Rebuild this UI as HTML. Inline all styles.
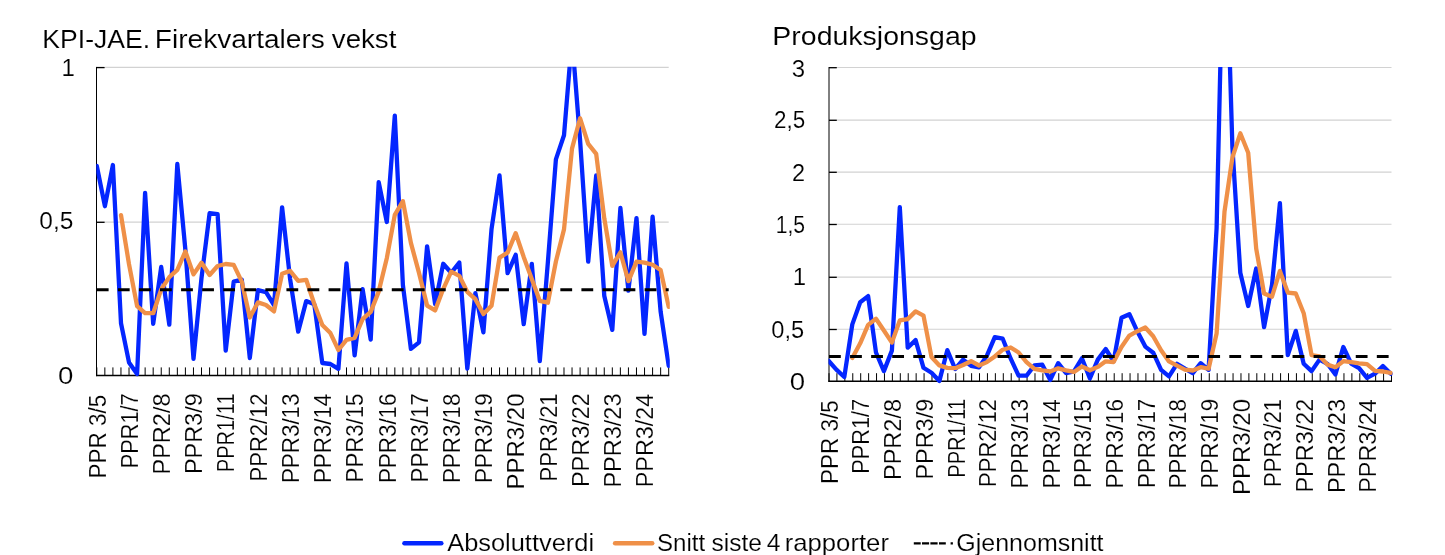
<!DOCTYPE html>
<html><head><meta charset="utf-8"><title>Chart</title>
<style>html,body{margin:0;padding:0;background:#fff}svg{display:block;will-change:transform}</style>
</head><body>
<svg width="1445" height="555" viewBox="0 0 1445 555">
<style>
text{font-family:"Liberation Sans",sans-serif;fill:#000}
.ax{font-size:24px;stroke:#fff;stroke-width:0.15px}
.xl{font-size:23.6px;stroke:#fff;stroke-width:0.15px}
.ti{font-size:26px;stroke:#fff;stroke-width:0.1px}
.lg{font-size:24.8px;stroke:#fff;stroke-width:0.15px}
</style>
<rect width="1445" height="555" fill="#fff"/>
<text transform="translate(42.37,47.90) scale(1.0178,1)" class="ti" style="font-size:26.1px">KPI-JAE.</text>
<text transform="translate(154.75,47.90) scale(1.0766,1)" class="ti" style="font-size:26.1px">Firekvartalers</text>
<text transform="translate(331.80,47.90) scale(1.0611,1)" class="ti" style="font-size:26.1px">vekst</text>
<text transform="translate(772.32,44.90) scale(1.0916,1)" class="ti" style="font-size:26.1px">Produksjonsgap</text>
<line x1="96.8" y1="67.4" x2="668.7" y2="67.4" stroke="#d2d2d2" stroke-width="1.1"/>
<line x1="96.8" y1="222.1" x2="668.7" y2="222.1" stroke="#d2d2d2" stroke-width="1.1"/>
<clipPath id="clip1"><rect x="96.3" y="66.8" width="573.5" height="312.4"/></clipPath>
<line x1="96.80" y1="367.4" x2="96.80" y2="375.8" stroke="#000" stroke-width="1"/>
<line x1="104.85" y1="367.4" x2="104.85" y2="375.8" stroke="#000" stroke-width="1"/>
<line x1="112.91" y1="367.4" x2="112.91" y2="375.8" stroke="#000" stroke-width="1"/>
<line x1="120.96" y1="367.4" x2="120.96" y2="375.8" stroke="#000" stroke-width="1"/>
<line x1="129.02" y1="367.4" x2="129.02" y2="375.8" stroke="#000" stroke-width="1"/>
<line x1="137.07" y1="367.4" x2="137.07" y2="375.8" stroke="#000" stroke-width="1"/>
<line x1="145.13" y1="367.4" x2="145.13" y2="375.8" stroke="#000" stroke-width="1"/>
<line x1="153.18" y1="367.4" x2="153.18" y2="375.8" stroke="#000" stroke-width="1"/>
<line x1="161.24" y1="367.4" x2="161.24" y2="375.8" stroke="#000" stroke-width="1"/>
<line x1="169.29" y1="367.4" x2="169.29" y2="375.8" stroke="#000" stroke-width="1"/>
<line x1="177.35" y1="367.4" x2="177.35" y2="375.8" stroke="#000" stroke-width="1"/>
<line x1="185.40" y1="367.4" x2="185.40" y2="375.8" stroke="#000" stroke-width="1"/>
<line x1="193.46" y1="367.4" x2="193.46" y2="375.8" stroke="#000" stroke-width="1"/>
<line x1="201.51" y1="367.4" x2="201.51" y2="375.8" stroke="#000" stroke-width="1"/>
<line x1="209.57" y1="367.4" x2="209.57" y2="375.8" stroke="#000" stroke-width="1"/>
<line x1="217.62" y1="367.4" x2="217.62" y2="375.8" stroke="#000" stroke-width="1"/>
<line x1="225.68" y1="367.4" x2="225.68" y2="375.8" stroke="#000" stroke-width="1"/>
<line x1="233.73" y1="367.4" x2="233.73" y2="375.8" stroke="#000" stroke-width="1"/>
<line x1="241.79" y1="367.4" x2="241.79" y2="375.8" stroke="#000" stroke-width="1"/>
<line x1="249.84" y1="367.4" x2="249.84" y2="375.8" stroke="#000" stroke-width="1"/>
<line x1="257.90" y1="367.4" x2="257.90" y2="375.8" stroke="#000" stroke-width="1"/>
<line x1="265.95" y1="367.4" x2="265.95" y2="375.8" stroke="#000" stroke-width="1"/>
<line x1="274.01" y1="367.4" x2="274.01" y2="375.8" stroke="#000" stroke-width="1"/>
<line x1="282.06" y1="367.4" x2="282.06" y2="375.8" stroke="#000" stroke-width="1"/>
<line x1="290.12" y1="367.4" x2="290.12" y2="375.8" stroke="#000" stroke-width="1"/>
<line x1="298.17" y1="367.4" x2="298.17" y2="375.8" stroke="#000" stroke-width="1"/>
<line x1="306.23" y1="367.4" x2="306.23" y2="375.8" stroke="#000" stroke-width="1"/>
<line x1="314.28" y1="367.4" x2="314.28" y2="375.8" stroke="#000" stroke-width="1"/>
<line x1="322.34" y1="367.4" x2="322.34" y2="375.8" stroke="#000" stroke-width="1"/>
<line x1="330.39" y1="367.4" x2="330.39" y2="375.8" stroke="#000" stroke-width="1"/>
<line x1="338.45" y1="367.4" x2="338.45" y2="375.8" stroke="#000" stroke-width="1"/>
<line x1="346.50" y1="367.4" x2="346.50" y2="375.8" stroke="#000" stroke-width="1"/>
<line x1="354.56" y1="367.4" x2="354.56" y2="375.8" stroke="#000" stroke-width="1"/>
<line x1="362.61" y1="367.4" x2="362.61" y2="375.8" stroke="#000" stroke-width="1"/>
<line x1="370.67" y1="367.4" x2="370.67" y2="375.8" stroke="#000" stroke-width="1"/>
<line x1="378.72" y1="367.4" x2="378.72" y2="375.8" stroke="#000" stroke-width="1"/>
<line x1="386.78" y1="367.4" x2="386.78" y2="375.8" stroke="#000" stroke-width="1"/>
<line x1="394.83" y1="367.4" x2="394.83" y2="375.8" stroke="#000" stroke-width="1"/>
<line x1="402.89" y1="367.4" x2="402.89" y2="375.8" stroke="#000" stroke-width="1"/>
<line x1="410.94" y1="367.4" x2="410.94" y2="375.8" stroke="#000" stroke-width="1"/>
<line x1="419.00" y1="367.4" x2="419.00" y2="375.8" stroke="#000" stroke-width="1"/>
<line x1="427.05" y1="367.4" x2="427.05" y2="375.8" stroke="#000" stroke-width="1"/>
<line x1="435.11" y1="367.4" x2="435.11" y2="375.8" stroke="#000" stroke-width="1"/>
<line x1="443.16" y1="367.4" x2="443.16" y2="375.8" stroke="#000" stroke-width="1"/>
<line x1="451.22" y1="367.4" x2="451.22" y2="375.8" stroke="#000" stroke-width="1"/>
<line x1="459.27" y1="367.4" x2="459.27" y2="375.8" stroke="#000" stroke-width="1"/>
<line x1="467.33" y1="367.4" x2="467.33" y2="375.8" stroke="#000" stroke-width="1"/>
<line x1="475.38" y1="367.4" x2="475.38" y2="375.8" stroke="#000" stroke-width="1"/>
<line x1="483.44" y1="367.4" x2="483.44" y2="375.8" stroke="#000" stroke-width="1"/>
<line x1="491.49" y1="367.4" x2="491.49" y2="375.8" stroke="#000" stroke-width="1"/>
<line x1="499.55" y1="367.4" x2="499.55" y2="375.8" stroke="#000" stroke-width="1"/>
<line x1="507.60" y1="367.4" x2="507.60" y2="375.8" stroke="#000" stroke-width="1"/>
<line x1="515.66" y1="367.4" x2="515.66" y2="375.8" stroke="#000" stroke-width="1"/>
<line x1="523.71" y1="367.4" x2="523.71" y2="375.8" stroke="#000" stroke-width="1"/>
<line x1="531.77" y1="367.4" x2="531.77" y2="375.8" stroke="#000" stroke-width="1"/>
<line x1="539.82" y1="367.4" x2="539.82" y2="375.8" stroke="#000" stroke-width="1"/>
<line x1="547.88" y1="367.4" x2="547.88" y2="375.8" stroke="#000" stroke-width="1"/>
<line x1="555.93" y1="367.4" x2="555.93" y2="375.8" stroke="#000" stroke-width="1"/>
<line x1="563.99" y1="367.4" x2="563.99" y2="375.8" stroke="#000" stroke-width="1"/>
<line x1="572.04" y1="367.4" x2="572.04" y2="375.8" stroke="#000" stroke-width="1"/>
<line x1="580.10" y1="367.4" x2="580.10" y2="375.8" stroke="#000" stroke-width="1"/>
<line x1="588.15" y1="367.4" x2="588.15" y2="375.8" stroke="#000" stroke-width="1"/>
<line x1="596.21" y1="367.4" x2="596.21" y2="375.8" stroke="#000" stroke-width="1"/>
<line x1="604.26" y1="367.4" x2="604.26" y2="375.8" stroke="#000" stroke-width="1"/>
<line x1="612.32" y1="367.4" x2="612.32" y2="375.8" stroke="#000" stroke-width="1"/>
<line x1="620.37" y1="367.4" x2="620.37" y2="375.8" stroke="#000" stroke-width="1"/>
<line x1="628.43" y1="367.4" x2="628.43" y2="375.8" stroke="#000" stroke-width="1"/>
<line x1="636.48" y1="367.4" x2="636.48" y2="375.8" stroke="#000" stroke-width="1"/>
<line x1="644.54" y1="367.4" x2="644.54" y2="375.8" stroke="#000" stroke-width="1"/>
<line x1="652.59" y1="367.4" x2="652.59" y2="375.8" stroke="#000" stroke-width="1"/>
<line x1="660.65" y1="367.4" x2="660.65" y2="375.8" stroke="#000" stroke-width="1"/>
<line x1="668.70" y1="367.4" x2="668.70" y2="375.8" stroke="#000" stroke-width="1"/>
<line x1="96.5" y1="66.9" x2="96.5" y2="376.2" stroke="#000" stroke-width="1.0"/>
<line x1="96.2" y1="375.5" x2="669.2" y2="375.5" stroke="#000" stroke-width="1.5"/>
<line x1="96.8" y1="67.6" x2="104.6" y2="67.6" stroke="#000" stroke-width="1.3"/>
<line x1="96.8" y1="222.3" x2="104.6" y2="222.3" stroke="#000" stroke-width="1.3"/>
<g clip-path="url(#clip1)" fill="none" stroke-linejoin="round" stroke-linecap="round">
<path d="M96.8,166.0 L104.9,206.2 L112.9,165.0 L121.0,323.2 L129.0,362.4 L137.1,374.0 L145.1,192.8 L153.2,323.8 L161.2,267.0 L169.3,324.6 L177.3,164.0 L185.4,250.0 L193.5,358.8 L201.5,278.0 L209.6,213.2 L217.6,214.2 L225.7,350.7 L233.7,281.7 L241.8,279.7 L249.8,358.0 L257.9,290.1 L266.0,292.1 L274.0,305.2 L282.1,207.3 L290.1,279.0 L298.2,331.7 L306.2,301.1 L314.3,304.2 L322.3,363.0 L330.4,364.0 L338.4,368.8 L346.5,263.4 L354.6,355.4 L362.6,289.1 L370.7,339.7 L378.7,182.1 L386.8,222.0 L394.8,115.6 L402.9,285.0 L410.9,348.9 L419.0,342.3 L427.1,246.3 L435.1,304.0 L443.2,263.8 L451.2,272.8 L459.3,262.5 L467.3,368.5 L475.4,293.1 L483.4,332.3 L491.5,229.3 L499.5,175.5 L507.6,273.2 L515.7,254.8 L523.7,324.2 L531.8,263.8 L539.8,361.0 L547.9,261.8 L555.9,159.4 L564.0,135.3 L572.0,38.0 L580.1,140.5 L588.2,261.7 L596.2,175.5 L604.3,296.1 L612.3,329.9 L620.4,207.9 L628.4,290.7 L636.5,218.1 L644.5,333.9 L652.6,216.7 L660.6,311.4 L668.7,365.8" stroke="#0426ff" stroke-width="4.3"/>
<path d="M121.0,215.1 L129.0,264.2 L137.1,306.1 L145.1,313.1 L153.2,313.2 L161.2,289.4 L169.3,277.1 L177.3,269.9 L185.4,251.4 L193.5,274.4 L201.5,262.7 L209.6,275.0 L217.6,266.0 L225.7,264.0 L233.7,264.9 L241.8,281.6 L249.8,317.5 L257.9,302.4 L266.0,305.0 L274.0,311.4 L282.1,273.7 L290.1,270.9 L298.2,280.8 L306.2,279.8 L314.3,304.0 L322.3,325.0 L330.4,333.1 L338.4,350.0 L346.5,339.8 L354.6,337.9 L362.6,319.2 L370.7,311.9 L378.7,291.6 L386.8,258.2 L394.8,214.8 L402.9,201.2 L410.9,242.9 L419.0,272.9 L427.1,305.6 L435.1,310.4 L443.2,289.1 L451.2,271.7 L459.3,275.8 L467.3,291.9 L475.4,299.2 L483.4,314.1 L491.5,305.8 L499.5,257.6 L507.6,252.6 L515.7,233.2 L523.7,256.9 L531.8,279.0 L539.8,300.9 L547.9,302.7 L555.9,261.5 L564.0,229.4 L572.0,148.6 L580.1,118.3 L588.2,143.9 L596.2,153.9 L604.3,218.4 L612.3,265.8 L620.4,252.3 L628.4,281.1 L636.5,261.6 L644.5,262.6 L652.6,264.8 L660.6,270.0 L668.7,306.9" stroke="#ef9048" stroke-width="4.3"/>
</g>
<line x1="96.8" y1="289.7" x2="668.7" y2="289.7" stroke="#000" stroke-width="3" stroke-dasharray="11.8 9.27"/>
<text transform="translate(74.9,76.0) scale(1.0,1)" text-anchor="end" class="ax">1</text>
<text transform="translate(73.4,228.9) scale(1.02,1)" text-anchor="end" class="ax">0,5</text>
<text transform="translate(73.4,383.5) scale(1.15,1)" text-anchor="end" class="ax">0</text>
<text transform="translate(105.5,478.6) rotate(-90) scale(0.9548,1)" class="xl">PPR 3/5</text>
<text transform="translate(137.7,468.3) rotate(-90) scale(0.9227,1)" class="xl">PPR1/7</text>
<text transform="translate(169.9,474.5) rotate(-90) scale(0.9963,1)" class="xl">PPR2/8</text>
<text transform="translate(202.2,474.1) rotate(-90) scale(0.9942,1)" class="xl">PPR3/9</text>
<text transform="translate(234.4,472.2) rotate(-90) scale(0.8503,1)" class="xl">PPR1/11</text>
<text transform="translate(266.6,481.4) rotate(-90) scale(0.9324,1)" class="xl">PPR2/12</text>
<text transform="translate(298.8,483.1) rotate(-90) scale(0.9486,1)" class="xl">PPR3/13</text>
<text transform="translate(331.0,483.1) rotate(-90) scale(0.9461,1)" class="xl">PPR3/14</text>
<text transform="translate(363.3,482.4) rotate(-90) scale(0.9409,1)" class="xl">PPR3/15</text>
<text transform="translate(395.5,483.1) rotate(-90) scale(0.9486,1)" class="xl">PPR3/16</text>
<text transform="translate(427.7,482.4) rotate(-90) scale(0.9434,1)" class="xl">PPR3/17</text>
<text transform="translate(459.9,483.1) rotate(-90) scale(0.9486,1)" class="xl">PPR3/18</text>
<text transform="translate(492.1,483.1) rotate(-90) scale(0.9510,1)" class="xl">PPR3/19</text>
<text transform="translate(524.4,489.6) rotate(-90) scale(1.0184,1)" class="xl">PPR3/20</text>
<text transform="translate(556.6,481.4) rotate(-90) scale(0.9324,1)" class="xl">PPR3/21</text>
<text transform="translate(588.8,487.0) rotate(-90) scale(0.9926,1)" class="xl">PPR3/22</text>
<text transform="translate(621.0,487.6) rotate(-90) scale(0.9965,1)" class="xl">PPR3/23</text>
<text transform="translate(653.2,487.2) rotate(-90) scale(0.9896,1)" class="xl">PPR3/24</text>
<line x1="829.0" y1="67.5" x2="1391.5" y2="67.5" stroke="#d2d2d2" stroke-width="1.1"/>
<line x1="829.0" y1="120.1" x2="1391.5" y2="120.1" stroke="#d2d2d2" stroke-width="1.1"/>
<line x1="829.0" y1="172.1" x2="1391.5" y2="172.1" stroke="#d2d2d2" stroke-width="1.1"/>
<line x1="829.0" y1="224.3" x2="1391.5" y2="224.3" stroke="#d2d2d2" stroke-width="1.1"/>
<line x1="829.0" y1="277.1" x2="1391.5" y2="277.1" stroke="#d2d2d2" stroke-width="1.1"/>
<line x1="829.0" y1="329.3" x2="1391.5" y2="329.3" stroke="#d2d2d2" stroke-width="1.1"/>
<clipPath id="clip2"><rect x="828.5" y="66.9" width="564.1" height="318.1"/></clipPath>
<line x1="829.00" y1="373.2" x2="829.00" y2="381.6" stroke="#000" stroke-width="1"/>
<line x1="836.92" y1="373.2" x2="836.92" y2="381.6" stroke="#000" stroke-width="1"/>
<line x1="844.85" y1="373.2" x2="844.85" y2="381.6" stroke="#000" stroke-width="1"/>
<line x1="852.77" y1="373.2" x2="852.77" y2="381.6" stroke="#000" stroke-width="1"/>
<line x1="860.69" y1="373.2" x2="860.69" y2="381.6" stroke="#000" stroke-width="1"/>
<line x1="868.61" y1="373.2" x2="868.61" y2="381.6" stroke="#000" stroke-width="1"/>
<line x1="876.54" y1="373.2" x2="876.54" y2="381.6" stroke="#000" stroke-width="1"/>
<line x1="884.46" y1="373.2" x2="884.46" y2="381.6" stroke="#000" stroke-width="1"/>
<line x1="892.38" y1="373.2" x2="892.38" y2="381.6" stroke="#000" stroke-width="1"/>
<line x1="900.30" y1="373.2" x2="900.30" y2="381.6" stroke="#000" stroke-width="1"/>
<line x1="908.23" y1="373.2" x2="908.23" y2="381.6" stroke="#000" stroke-width="1"/>
<line x1="916.15" y1="373.2" x2="916.15" y2="381.6" stroke="#000" stroke-width="1"/>
<line x1="924.07" y1="373.2" x2="924.07" y2="381.6" stroke="#000" stroke-width="1"/>
<line x1="931.99" y1="373.2" x2="931.99" y2="381.6" stroke="#000" stroke-width="1"/>
<line x1="939.92" y1="373.2" x2="939.92" y2="381.6" stroke="#000" stroke-width="1"/>
<line x1="947.84" y1="373.2" x2="947.84" y2="381.6" stroke="#000" stroke-width="1"/>
<line x1="955.76" y1="373.2" x2="955.76" y2="381.6" stroke="#000" stroke-width="1"/>
<line x1="963.68" y1="373.2" x2="963.68" y2="381.6" stroke="#000" stroke-width="1"/>
<line x1="971.61" y1="373.2" x2="971.61" y2="381.6" stroke="#000" stroke-width="1"/>
<line x1="979.53" y1="373.2" x2="979.53" y2="381.6" stroke="#000" stroke-width="1"/>
<line x1="987.45" y1="373.2" x2="987.45" y2="381.6" stroke="#000" stroke-width="1"/>
<line x1="995.37" y1="373.2" x2="995.37" y2="381.6" stroke="#000" stroke-width="1"/>
<line x1="1003.30" y1="373.2" x2="1003.30" y2="381.6" stroke="#000" stroke-width="1"/>
<line x1="1011.22" y1="373.2" x2="1011.22" y2="381.6" stroke="#000" stroke-width="1"/>
<line x1="1019.14" y1="373.2" x2="1019.14" y2="381.6" stroke="#000" stroke-width="1"/>
<line x1="1027.06" y1="373.2" x2="1027.06" y2="381.6" stroke="#000" stroke-width="1"/>
<line x1="1034.99" y1="373.2" x2="1034.99" y2="381.6" stroke="#000" stroke-width="1"/>
<line x1="1042.91" y1="373.2" x2="1042.91" y2="381.6" stroke="#000" stroke-width="1"/>
<line x1="1050.83" y1="373.2" x2="1050.83" y2="381.6" stroke="#000" stroke-width="1"/>
<line x1="1058.75" y1="373.2" x2="1058.75" y2="381.6" stroke="#000" stroke-width="1"/>
<line x1="1066.68" y1="373.2" x2="1066.68" y2="381.6" stroke="#000" stroke-width="1"/>
<line x1="1074.60" y1="373.2" x2="1074.60" y2="381.6" stroke="#000" stroke-width="1"/>
<line x1="1082.52" y1="373.2" x2="1082.52" y2="381.6" stroke="#000" stroke-width="1"/>
<line x1="1090.44" y1="373.2" x2="1090.44" y2="381.6" stroke="#000" stroke-width="1"/>
<line x1="1098.37" y1="373.2" x2="1098.37" y2="381.6" stroke="#000" stroke-width="1"/>
<line x1="1106.29" y1="373.2" x2="1106.29" y2="381.6" stroke="#000" stroke-width="1"/>
<line x1="1114.21" y1="373.2" x2="1114.21" y2="381.6" stroke="#000" stroke-width="1"/>
<line x1="1122.13" y1="373.2" x2="1122.13" y2="381.6" stroke="#000" stroke-width="1"/>
<line x1="1130.06" y1="373.2" x2="1130.06" y2="381.6" stroke="#000" stroke-width="1"/>
<line x1="1137.98" y1="373.2" x2="1137.98" y2="381.6" stroke="#000" stroke-width="1"/>
<line x1="1145.90" y1="373.2" x2="1145.90" y2="381.6" stroke="#000" stroke-width="1"/>
<line x1="1153.82" y1="373.2" x2="1153.82" y2="381.6" stroke="#000" stroke-width="1"/>
<line x1="1161.75" y1="373.2" x2="1161.75" y2="381.6" stroke="#000" stroke-width="1"/>
<line x1="1169.67" y1="373.2" x2="1169.67" y2="381.6" stroke="#000" stroke-width="1"/>
<line x1="1177.59" y1="373.2" x2="1177.59" y2="381.6" stroke="#000" stroke-width="1"/>
<line x1="1185.51" y1="373.2" x2="1185.51" y2="381.6" stroke="#000" stroke-width="1"/>
<line x1="1193.44" y1="373.2" x2="1193.44" y2="381.6" stroke="#000" stroke-width="1"/>
<line x1="1201.36" y1="373.2" x2="1201.36" y2="381.6" stroke="#000" stroke-width="1"/>
<line x1="1209.28" y1="373.2" x2="1209.28" y2="381.6" stroke="#000" stroke-width="1"/>
<line x1="1217.20" y1="373.2" x2="1217.20" y2="381.6" stroke="#000" stroke-width="1"/>
<line x1="1225.13" y1="373.2" x2="1225.13" y2="381.6" stroke="#000" stroke-width="1"/>
<line x1="1233.05" y1="373.2" x2="1233.05" y2="381.6" stroke="#000" stroke-width="1"/>
<line x1="1240.97" y1="373.2" x2="1240.97" y2="381.6" stroke="#000" stroke-width="1"/>
<line x1="1248.89" y1="373.2" x2="1248.89" y2="381.6" stroke="#000" stroke-width="1"/>
<line x1="1256.82" y1="373.2" x2="1256.82" y2="381.6" stroke="#000" stroke-width="1"/>
<line x1="1264.74" y1="373.2" x2="1264.74" y2="381.6" stroke="#000" stroke-width="1"/>
<line x1="1272.66" y1="373.2" x2="1272.66" y2="381.6" stroke="#000" stroke-width="1"/>
<line x1="1280.58" y1="373.2" x2="1280.58" y2="381.6" stroke="#000" stroke-width="1"/>
<line x1="1288.51" y1="373.2" x2="1288.51" y2="381.6" stroke="#000" stroke-width="1"/>
<line x1="1296.43" y1="373.2" x2="1296.43" y2="381.6" stroke="#000" stroke-width="1"/>
<line x1="1304.35" y1="373.2" x2="1304.35" y2="381.6" stroke="#000" stroke-width="1"/>
<line x1="1312.27" y1="373.2" x2="1312.27" y2="381.6" stroke="#000" stroke-width="1"/>
<line x1="1320.20" y1="373.2" x2="1320.20" y2="381.6" stroke="#000" stroke-width="1"/>
<line x1="1328.12" y1="373.2" x2="1328.12" y2="381.6" stroke="#000" stroke-width="1"/>
<line x1="1336.04" y1="373.2" x2="1336.04" y2="381.6" stroke="#000" stroke-width="1"/>
<line x1="1343.96" y1="373.2" x2="1343.96" y2="381.6" stroke="#000" stroke-width="1"/>
<line x1="1351.89" y1="373.2" x2="1351.89" y2="381.6" stroke="#000" stroke-width="1"/>
<line x1="1359.81" y1="373.2" x2="1359.81" y2="381.6" stroke="#000" stroke-width="1"/>
<line x1="1367.73" y1="373.2" x2="1367.73" y2="381.6" stroke="#000" stroke-width="1"/>
<line x1="1375.65" y1="373.2" x2="1375.65" y2="381.6" stroke="#000" stroke-width="1"/>
<line x1="1383.58" y1="373.2" x2="1383.58" y2="381.6" stroke="#000" stroke-width="1"/>
<line x1="1391.50" y1="373.2" x2="1391.50" y2="381.6" stroke="#000" stroke-width="1"/>
<line x1="829.0" y1="67.0" x2="829.0" y2="382.0" stroke="#000" stroke-width="1.0"/>
<line x1="828.4" y1="381.3" x2="1392.0" y2="381.3" stroke="#000" stroke-width="1.5"/>
<line x1="829.0" y1="67.7" x2="836.8" y2="67.7" stroke="#000" stroke-width="1.3"/>
<line x1="829.0" y1="120.3" x2="836.8" y2="120.3" stroke="#000" stroke-width="1.3"/>
<line x1="829.0" y1="172.3" x2="836.8" y2="172.3" stroke="#000" stroke-width="1.3"/>
<line x1="829.0" y1="224.5" x2="836.8" y2="224.5" stroke="#000" stroke-width="1.3"/>
<line x1="829.0" y1="277.3" x2="836.8" y2="277.3" stroke="#000" stroke-width="1.3"/>
<line x1="829.0" y1="329.5" x2="836.8" y2="329.5" stroke="#000" stroke-width="1.3"/>
<g clip-path="url(#clip2)" fill="none" stroke-linejoin="round" stroke-linecap="round">
<path d="M828.5,360.7 L836.4,369.7 L844.3,377.0 L852.3,324.4 L860.2,302.2 L868.1,296.1 L876.0,352.5 L883.9,371.1 L891.9,350.6 L899.8,207.2 L907.7,347.7 L915.6,340.1 L923.5,367.8 L931.5,372.8 L939.4,380.9 L947.3,350.2 L955.2,369.0 L963.1,359.7 L971.1,365.8 L979.0,367.4 L986.9,355.6 L994.8,337.1 L1002.7,338.7 L1010.7,358.7 L1018.6,375.6 L1026.5,375.7 L1034.4,365.4 L1042.3,364.7 L1050.3,379.9 L1058.2,363.2 L1066.1,373.2 L1074.0,371.3 L1081.9,358.3 L1089.9,378.5 L1097.8,359.6 L1105.7,349.0 L1113.6,361.3 L1121.5,317.8 L1129.4,314.2 L1137.4,331.6 L1145.3,346.6 L1153.2,352.7 L1161.1,369.8 L1169.0,376.4 L1177.0,363.8 L1184.9,368.7 L1192.8,373.2 L1200.7,363.2 L1208.6,369.8 L1216.6,228.0 L1224.5,-114.7 L1232.4,147.1 L1240.3,272.8 L1248.2,306.0 L1256.2,268.5 L1264.1,327.2 L1272.0,285.0 L1279.9,203.1 L1287.8,355.2 L1295.8,330.9 L1303.7,363.7 L1311.6,371.1 L1319.5,359.6 L1327.4,363.8 L1335.4,374.4 L1343.3,347.0 L1351.2,363.7 L1359.1,368.2 L1367.0,377.8 L1375.0,373.7 L1382.9,366.1 L1390.8,373.7" stroke="#0426ff" stroke-width="4.3"/>
<path d="M852.3,357.9 L860.2,343.3 L868.1,324.9 L876.0,318.8 L883.9,330.5 L891.9,342.6 L899.8,320.4 L907.7,319.1 L915.6,311.4 L923.5,315.7 L931.5,357.1 L939.4,365.4 L947.3,367.9 L955.2,368.2 L963.1,365.0 L971.1,361.2 L979.0,365.5 L986.9,362.1 L994.8,356.5 L1002.7,349.7 L1010.7,347.5 L1018.6,352.5 L1026.5,362.2 L1034.4,368.9 L1042.3,370.4 L1050.3,371.4 L1058.2,368.3 L1066.1,370.3 L1074.0,371.9 L1081.9,366.5 L1089.9,370.3 L1097.8,366.9 L1105.7,361.3 L1113.6,362.1 L1121.5,346.9 L1129.4,335.6 L1137.4,331.2 L1145.3,327.5 L1153.2,336.3 L1161.1,350.2 L1169.0,361.4 L1177.0,365.7 L1184.9,369.7 L1192.8,370.5 L1200.7,367.2 L1208.6,368.7 L1216.6,333.5 L1224.5,211.6 L1232.4,157.5 L1240.3,133.3 L1248.2,152.8 L1256.2,248.6 L1264.1,293.6 L1272.0,296.7 L1279.9,270.9 L1287.8,292.6 L1295.8,293.5 L1303.7,313.2 L1311.6,355.2 L1319.5,356.3 L1327.4,364.6 L1335.4,367.2 L1343.3,361.2 L1351.2,362.2 L1359.1,363.3 L1367.0,364.2 L1375.0,370.9 L1382.9,371.5 L1390.8,372.9" stroke="#ef9048" stroke-width="4.3"/>
</g>
<line x1="829.0" y1="356.5" x2="1391.5" y2="356.5" stroke="#000" stroke-width="3" stroke-dasharray="11.8 9.27"/>
<text transform="translate(805.1,76.5) scale(1.0,1)" text-anchor="end" class="ax">3</text>
<text transform="translate(805.1,127.8) scale(0.934,1)" text-anchor="end" class="ax">2,5</text>
<text transform="translate(805.1,180.8) scale(0.98,1)" text-anchor="end" class="ax">2</text>
<text transform="translate(805.1,232.9) scale(0.88,1)" text-anchor="end" class="ax">1,5</text>
<text transform="translate(806.1,284.8) scale(1.0,1)" text-anchor="end" class="ax">1</text>
<text transform="translate(804.2,338.1) scale(0.985,1)" text-anchor="end" class="ax">0,5</text>
<text transform="translate(805.1,390.3) scale(1.15,1)" text-anchor="end" class="ax">0</text>
<text transform="translate(837.7,484.1) rotate(-90) scale(0.9548,1)" class="xl">PPR 3/5</text>
<text transform="translate(869.4,473.8) rotate(-90) scale(0.9227,1)" class="xl">PPR1/7</text>
<text transform="translate(901.1,480.0) rotate(-90) scale(0.9963,1)" class="xl">PPR2/8</text>
<text transform="translate(932.8,479.6) rotate(-90) scale(0.9942,1)" class="xl">PPR3/9</text>
<text transform="translate(964.5,477.7) rotate(-90) scale(0.8503,1)" class="xl">PPR1/11</text>
<text transform="translate(996.2,486.9) rotate(-90) scale(0.9324,1)" class="xl">PPR2/12</text>
<text transform="translate(1027.8,488.6) rotate(-90) scale(0.9486,1)" class="xl">PPR3/13</text>
<text transform="translate(1059.5,488.6) rotate(-90) scale(0.9461,1)" class="xl">PPR3/14</text>
<text transform="translate(1091.2,487.9) rotate(-90) scale(0.9409,1)" class="xl">PPR3/15</text>
<text transform="translate(1122.9,488.6) rotate(-90) scale(0.9486,1)" class="xl">PPR3/16</text>
<text transform="translate(1154.6,487.9) rotate(-90) scale(0.9434,1)" class="xl">PPR3/17</text>
<text transform="translate(1186.3,488.6) rotate(-90) scale(0.9486,1)" class="xl">PPR3/18</text>
<text transform="translate(1218.0,488.6) rotate(-90) scale(0.9510,1)" class="xl">PPR3/19</text>
<text transform="translate(1249.7,495.1) rotate(-90) scale(1.0184,1)" class="xl">PPR3/20</text>
<text transform="translate(1281.4,486.9) rotate(-90) scale(0.9324,1)" class="xl">PPR3/21</text>
<text transform="translate(1313.1,492.5) rotate(-90) scale(0.9926,1)" class="xl">PPR3/22</text>
<text transform="translate(1344.7,493.1) rotate(-90) scale(0.9965,1)" class="xl">PPR3/23</text>
<text transform="translate(1376.4,492.7) rotate(-90) scale(0.9896,1)" class="xl">PPR3/24</text>
<line x1="404.45" y1="543.2" x2="441.3" y2="543.2" stroke="#0426ff" stroke-width="4.5" stroke-linecap="round"/>
<text transform="translate(447.20,550.60) scale(1.0766,1)" class="lg" style="font-size:23.6px">Absoluttverdi</text>
<line x1="615.1" y1="543.2" x2="652.2" y2="543.2" stroke="#ef9048" stroke-width="4.5" stroke-linecap="round"/>
<text transform="translate(656.94,550.60) scale(1.0209,1)" class="lg" style="font-size:23.6px">Snitt</text>
<text transform="translate(711.41,550.60) scale(1.0403,1)" class="lg" style="font-size:23.6px">siste</text>
<text transform="translate(766.81,550.60) scale(1.0469,1)" class="lg" style="font-size:23.6px">4</text>
<text transform="translate(784.66,550.60) scale(1.0900,1)" class="lg" style="font-size:23.6px">rapporter</text>
<path d="M913.8,543.4h6.9M922,543.4h7.1M930.4,543.4h7.2M939,543.4h6.8M950.6,543.4h2.3" stroke="#000" stroke-width="2.3" fill="none"/>
<text transform="translate(956.35,550.60) scale(1.0586,1)" class="lg" style="font-size:23.6px">Gjennomsnitt</text>
</svg>
</body></html>
